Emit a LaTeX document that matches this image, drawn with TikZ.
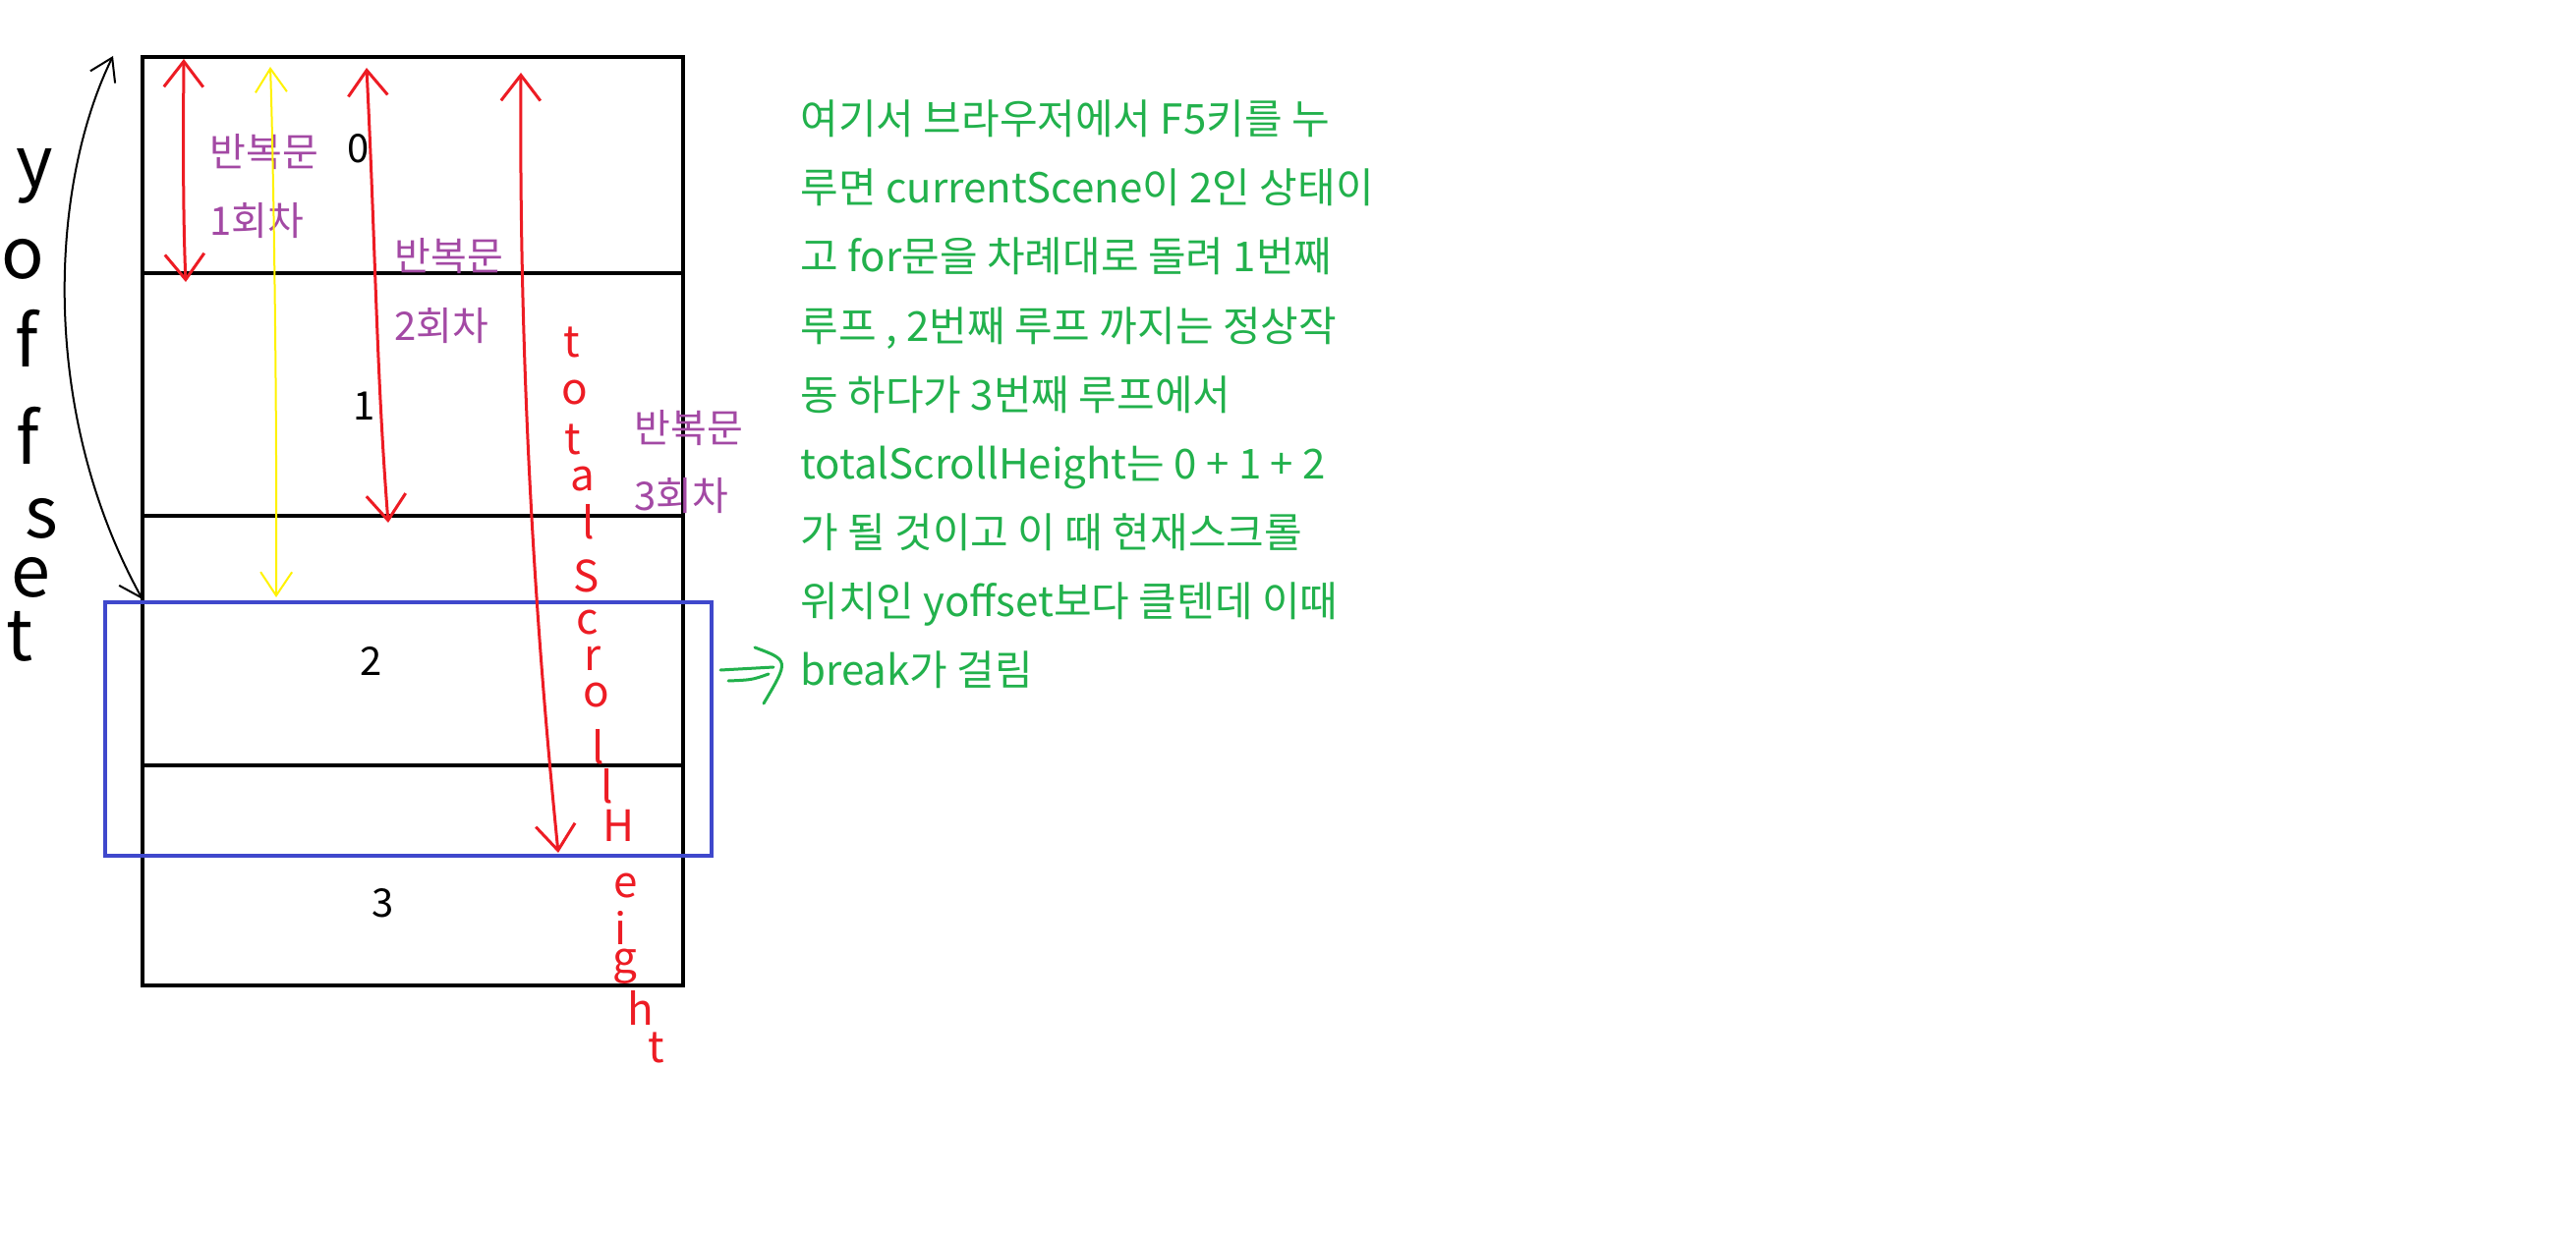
\documentclass[tikz,border=0pt]{standalone}
\usepackage{fontspec}
\setmainfont{Noto Sans CJK KR}
\usepackage{tikz}
\usetikzlibrary{arrows.meta,positioning}
\definecolor{paintred}{RGB}{237,28,36}
\definecolor{paintyellow}{RGB}{255,242,0}
\definecolor{paintgreen}{RGB}{34,177,76}
\definecolor{paintpurple}{RGB}{163,73,164}
\definecolor{paintblue}{RGB}{63,72,204}

\begin{document}
\begin{tikzpicture}[x=0.5pt, y=-0.5pt,
        cellline/.style={draw=black, line width=1.9pt},
        viewport/.style={draw=paintblue, line width=2pt},
        num/.style={anchor=base, inner sep=0pt, font=\fontsize{20}{24}\selectfont},
        loopnote/.style={anchor=base west, inner sep=0pt, text=paintpurple, font=\fontsize{20}{24}\selectfont},
        memo/.style={anchor=base west, inner sep=0pt, text=paintgreen, font=\fontsize{21}{24}\selectfont},
        yletter/.style={inner sep=0pt, font=\fontsize{36}{40}\selectfont},
        hletter/.style={inner sep=0pt, text=paintred, font=\fontsize{22}{24}\selectfont},
        redpen/.style={draw=paintred, line width=1.5pt, <->, >={Straight Barb[length=13pt,width=20pt]}},
        yellowpen/.style={draw=paintyellow, line width=1pt, <->, >={Straight Barb[length=12pt,width=16pt]}},
        blackpen/.style={draw=black, line width=1pt, <->, >={Straight Barb[length=11pt,width=14pt]}},
        greenpen/.style={draw=paintgreen, line width=1.5pt, line cap=round}]

        \fill[white] (0,0) rectangle (2621,1257);
        \useasboundingbox (0,0) rectangle (2621,1257);

        % scenes
        \draw[cellline] (145,58) rectangle (695,1003);
        \draw[cellline] (145,278) -- (695,278);
        \draw[cellline] (145,525) -- (695,525);
        \draw[cellline] (145,779) -- (695,779);
        \draw[viewport] (107,613) rectangle (724,871);

        \node[num] (s0) at (365,166) {0};
        \node[num] (s1) at (371,427) {1};
        \node[num] (s2) at (378,687) {2};
        \node[num] (s3) at (390,933) {3};

        \node[loopnote] (loop1) at (213,170) {반복문};
        \node[loopnote] (loop1n) at (213,240) {1회차};
        \node[loopnote] (loop2) at (401,276) {반복문};
        \node[loopnote] (loop2n) at (401,346) {2회차};
        \node[loopnote] (loop3) at (645,450) {반복문};
        \node[loopnote] (loop3n) at (645,519) {3회차};

        % arrow ends
        \coordinate (r1top) at (187,60);
        \coordinate (r1bot) at (189,287);
        \coordinate (r2top) at (373,69);
        \coordinate (r2bot) at (395,532);
        \coordinate (r3top) at (530,74);
        \coordinate (r3bot) at (568,868);
        \coordinate (ytop) at (275,68);
        \coordinate (ybot) at (281,608);
        \coordinate (otop) at (115,57);
        \coordinate (obot) at (145,610);

        \draw[redpen] (r1top) .. controls (186,180) and (187,240) .. (r1bot);
        \draw[redpen] (r2top) .. controls (382,250) and (383,380) .. (r2bot);
        \draw[redpen] (r3top) .. controls (528,380) and (545,640) .. (r3bot);
        \draw[yellowpen] (ytop) .. controls (278,150) and (282,400) .. (ybot);
        \draw[blackpen] (otop) .. controls (50,190) and (40,420) .. (obot);

        % yoffset
        \foreach \ch/\px/\py [count=\k] in {y/35/179, o/23/264, f/27/344, f/28/443, s/42/528, e/31/588, t/20/648}
            \node[yletter] (yoff\k) at (\px,\py) {\ch};

        % totalScrollHeight
        \foreach \ch/\px/\py [count=\k] in {t/582/348, o/585/400, t/583/447, a/593/488, l/599/531, S/597/586, c/598/634, r/603/670, o/607/708, l/609/760, l/618/800, H/630/840, e/637/902, i/632/944, g/636/984, h/652/1026, t/668/1066}
            \node[hletter] (tsh\k) at (\px,\py) {\ch};

        % memo
        \foreach \txt [count=\i] in {여기서 브라우저에서 F5키를 누, 루면 currentScene이 2인 상태이, 고 for문을 차례대로 돌려 1번째, {루프 , 2번째 루프 까지는 정상작}, 동 하다가 3번째 루프에서, totalScrollHeight는 0 + 1 + 2, 가 될 것이고 이 때 현재스크롤, 위치인 yoffset보다 클텐데 이때, break가 걸림}
            \node[memo] (memo\i) at (814,{137+70*(\i-1)}) {\txt};

        \draw[greenpen] (733,682) -- (787,679);
        \draw[greenpen] (741,693) .. controls (765,692) .. (782,686);
        \draw[greenpen] (768,659) .. controls (803,672) .. (777,716);

    \end{tikzpicture}
\end{document}
